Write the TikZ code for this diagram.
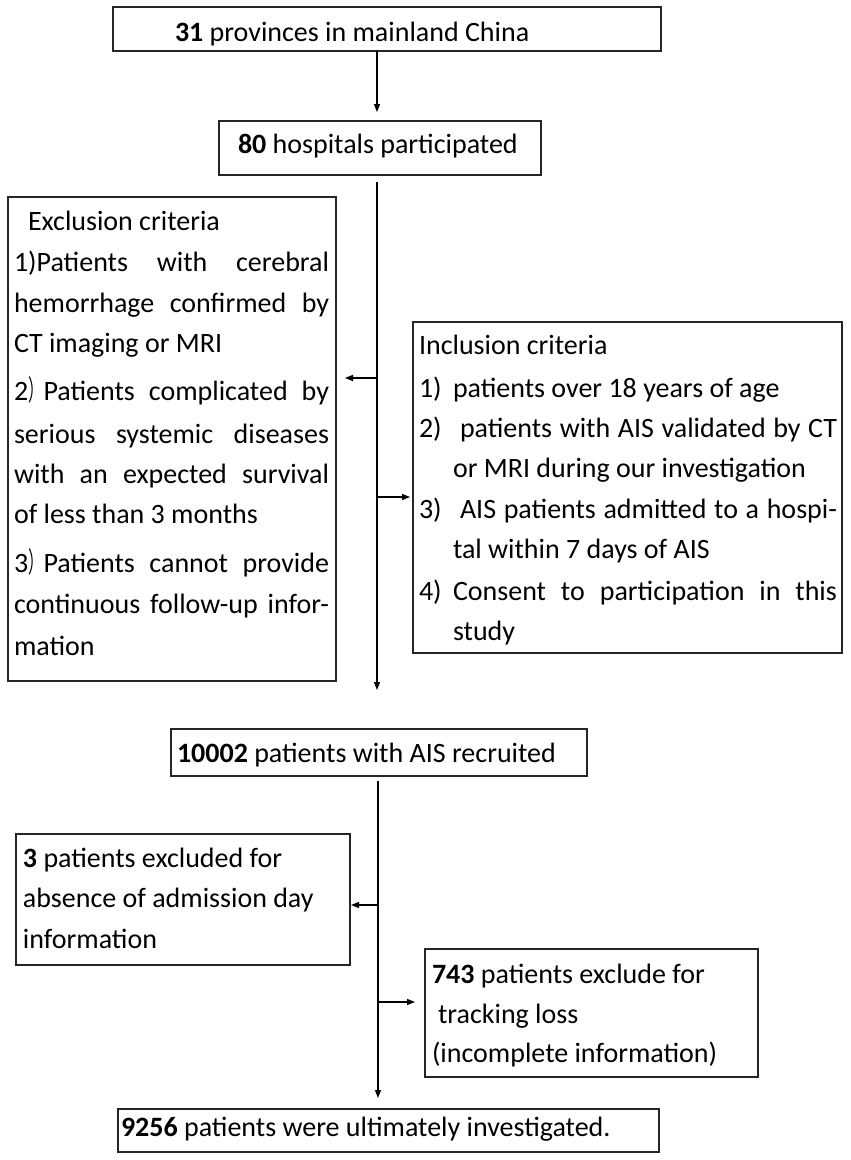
\documentclass[tikz,border=0pt]{standalone}
\usepackage{fontspec}
\setmainfont{Carlito}
\newfontfamily\cjkf[FakeStretch=0.55]{Noto Sans CJK SC}
\usetikzlibrary{arrows.meta}
\newcommand\fs{\fontsize{28}{34}\selectfont}
\newcommand\jus[2]{\makebox[#1pt][s]{#2}}
\newcommand\fwp{{\cjkf ）}}
\tikzset{
  box/.style={draw=black!85, line width=1.4pt, inner sep=0pt, outer sep=0pt, anchor=north west},
  txt/.style={anchor=base west, inner sep=0pt, outer sep=0pt, font=\fs},
  arr/.style={draw=black, line width=1.2pt, -{Triangle[length=8pt,width=6pt]}},
}
\begin{document}
\begin{tikzpicture}[x=1pt,y=-1pt]
\useasboundingbox[fill=white] (0,0) rectangle (851,1160);
% boxes
\node[box, minimum width=548pt, minimum height=44pt] (top) at (113,7) {};
\node[box, minimum width=322pt, minimum height=54pt] (hosp) at (219,121) {};
\node[box, minimum width=328pt, minimum height=484pt] (exc) at (8,197) {};
\node[box, minimum width=429pt, minimum height=331pt] (inc) at (413,322) {};
\node[box, minimum width=416pt, minimum height=47pt] (rec) at (171,729) {};
\node[box, minimum width=334pt, minimum height=131pt] (exa) at (16,834) {};
\node[box, minimum width=333pt, minimum height=128pt] (exb) at (425,949) {};
\node[box, minimum width=541pt, minimum height=43pt] (fin) at (118,1109) {};
% texts
\node[txt] (ttop) at (175,41) {\textbf{31} provinces in mainland China};
\node[txt] (thosp) at (238,153) {\textbf{80} hospitals participated};
\node[txt] (e0) at (28,230) {Exclusion criteria};
\node[txt] (e1) at (14,271) {\jus{315}{1)Patients with cerebral}};
\node[txt] (e2) at (14,312) {\jus{315}{hemorrhage confirmed by}};
\node[txt] (e3) at (14,352) {CT imaging or MRI};
\node[txt] (e4) at (14,400) {\jus{315}{2\fwp Patients complicated by}};
\node[txt] (e5) at (14,443) {\jus{315}{serious systemic diseases}};
\node[txt] (e6) at (14,483) {\jus{315}{with an expected survival}};
\node[txt] (e7) at (14,523) {of less than 3 months};
\node[txt] (e8) at (14,572) {\jus{315}{3\fwp Patients cannot provide}};
\node[txt] (e9) at (14,613) {\jus{315}{continuous follow-up infor-}};
\node[txt] (e10) at (14,655) {mation};
\node[txt] (i0) at (419,354) {Inclusion criteria};
\node[txt] (i1n) at (419,397) {1)};
\node[txt] (i1) at (453,397) {patients over 18 years of age};
\node[txt] (i2n) at (419,437) {2)};
\node[txt] (i2) at (460,437) {\jus{377}{patients with AIS validated by CT}};
\node[txt] (i2b) at (453,477) {or MRI during our investigation};
\node[txt] (i3n) at (419,518) {3)};
\node[txt] (i3) at (460,518) {\jus{377}{AIS patients admitted to a hospi-}};
\node[txt] (i3b) at (453,558) {tal within 7 days of AIS};
\node[txt] (i4n) at (419,600) {4)};
\node[txt] (i4) at (453,600) {\jus{384}{Consent to participation in this}};
\node[txt] (i4b) at (453,640) {study};
\node[txt] (trec) at (177,762) {\textbf{10002} patients with AIS recruited};
\node[txt] (ta1) at (23,867) {\textbf{3} patients excluded for};
\node[txt] (ta2) at (23,907) {absence of admission day};
\node[txt] (ta3) at (23,948) {information};
\node[txt] (tb1) at (432,983) {\textbf{743} patients exclude for};
\node[txt] (tb2) at (438,1023) {tracking loss};
\node[txt] (tb3) at (432,1062) {(incomplete information)};
\node[txt] (tfin) at (121,1136) {\textbf{9256} patients were ultimately investigated.};
% connectors
\coordinate (xa) at (377,0);
\coordinate (xb) at (378,0);
\coordinate (b1) at (377,378);
\coordinate (b2) at (377,497);
\coordinate (b3) at (378,905);
\coordinate (b4) at (378,1002);
\draw[arr, shorten >=9pt] (top.south -| xa) -- (hosp.north -| xa);
\draw[arr, shorten <=7pt, shorten >=39pt] (hosp.south -| xa) -- (rec.north -| xa);
\draw[arr, shorten >=9pt] (b1) -- (b1 -| exc.east);
\draw[arr, shorten >=3pt] (b2) -- (b2 -| inc.west);
\draw[arr, shorten <=5pt, shorten >=11pt] (rec.south -| xb) -- (fin.north -| xb);
\draw[arr, shorten >=1pt] (b3) -- (b3 -| exa.east);
\draw[arr, shorten >=10pt] (b4) -- (b4 -| exb.west);
\end{tikzpicture}
\end{document}
